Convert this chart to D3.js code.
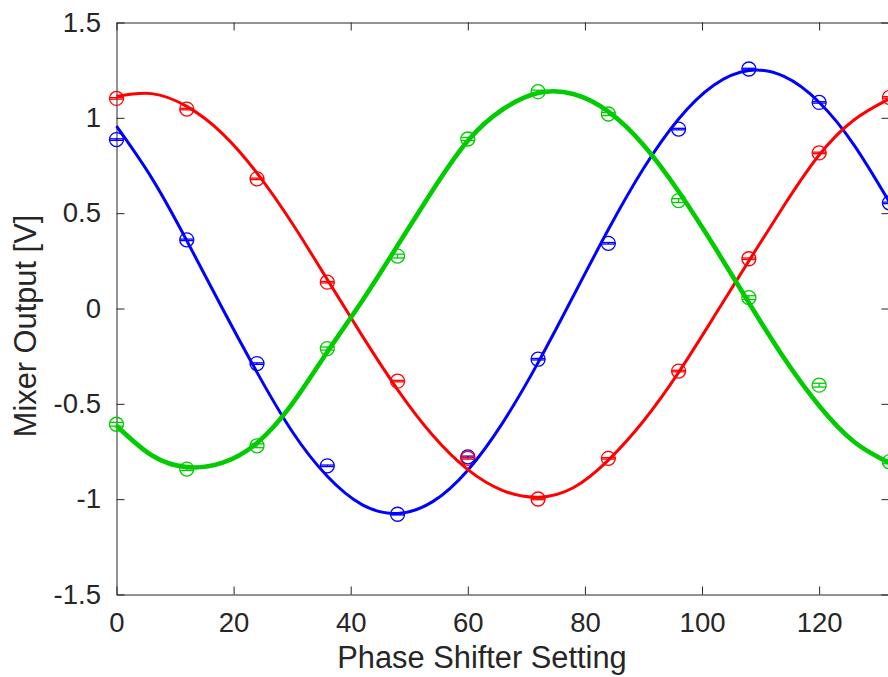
<!DOCTYPE html>
<html>
<head>
<meta charset="utf-8">
<script src="https://cdn.jsdelivr.net/npm/d3@7"></script>
<style>
  html, body { margin: 0; padding: 0; background: #ffffff; }
  svg { display: block; }
  text { font-family: "Liberation Sans", Arial, Helvetica, sans-serif; fill: #262626; }
</style>
</head>
<body>
<svg id="chart" width="888" height="677"></svg>
<script>
// Phase shifter settings at which the mixer output was measured
const settings = [0, 12, 24, 36, 48, 60, 72, 84, 96, 108, 120, 132];

// Measured mixer outputs [V]
const redMeasured   = [1.102, 1.046, 0.680, 0.138, -0.381, -0.786, -0.999, -0.786, -0.328, 0.261, 0.816, 1.107];
const blueMeasured  = [0.886, 0.360, -0.289, -0.825, -1.079, -0.778, -0.266, 0.342, 0.941, 1.256, 1.081, 0.554];
const greenMeasured = [-0.607, -0.842, -0.720, -0.210, 0.275, 0.889, 1.137, 1.020, 0.566, 0.057, -0.402, -0.804];

// Measurement uncertainties [V]
const redError   = [0.004, 0.004, 0.004, 0.004, 0.004, 0.004, 0.004, 0.004, 0.004, 0.004, 0.004, 0.004];
const blueError  = [0.004, 0.004, 0.004, 0.004, 0.004, 0.004, 0.004, 0.004, 0.004, 0.004, 0.004, 0.004];
const greenError = [0.010, 0.008, 0.010, 0.008, 0.010, 0.008, 0.008, 0.008, 0.010, 0.010, 0.010, 0.010];

// Sinusoidal fit curves, sampled along the phase shifter axis
const fitSettings = [0, 6, 12, 18, 24, 30, 36, 42, 48, 54, 60, 66, 72, 78, 84, 90, 96, 102, 108, 114, 120, 126, 132];
const redFit   = [1.112, 1.127, 1.060, 0.920, 0.710, 0.447, 0.152, -0.145, -0.425, -0.665, -0.845, -0.955, -0.990, -0.940, -0.795, -0.590, -0.335, -0.045, 0.250, 0.540, 0.805, 0.990, 1.100];
const blueFit  = [0.956, 0.685, 0.356, 0.005, -0.335, -0.645, -0.880, -1.030, -1.075, -1.013, -0.848, -0.597, -0.284, 0.064, 0.414, 0.734, 0.994, 1.171, 1.248, 1.217, 1.082, 0.856, 0.558];
const greenFit = [-0.615, -0.770, -0.832, -0.810, -0.705, -0.500, -0.228, 0.042, 0.330, 0.620, 0.880, 1.045, 1.130, 1.125, 1.033, 0.858, 0.614, 0.330, 0.030, -0.260, -0.510, -0.700, -0.810];

// Axis ticks
const xTicks = [0, 20, 40, 60, 80, 100, 120];
const xTickLabels = ["0", "20", "40", "60", "80", "100", "120"];
const yTicks = [-1.5, -1, -0.5, 0, 0.5, 1, 1.5];
const yTickLabels = ["-1.5", "-1", "-0.5", "0", "0.5", "1", "1.5"];

const svg = d3.select("#chart");
const plotLeft = 116.5, plotRight = 889.4, plotTop = 22.5, plotBottom = 594.5;
const axisColor = "#262626";
const tickFont = 27.5, labelFont = 30.8;

const x = d3.scaleLinear().domain([0, 132]).range([plotLeft, plotRight]);
const y = d3.scaleLinear().domain([-1.5, 1.5]).range([plotBottom, plotTop]);

// Axes box with inward ticks
function styleAxis(g) {
  g.select(".domain").attr("stroke", axisColor).attr("stroke-width", 1);
  g.selectAll(".tick line").attr("stroke", axisColor).attr("stroke-width", 1);
  g.selectAll(".tick text").attr("fill", axisColor)
    .style("font-size", tickFont + "px")
    .style("font-family", '"Liberation Sans", Arial, Helvetica, sans-serif');
}

svg.append("g").attr("transform", `translate(0,${plotBottom})`)
  .call(d3.axisBottom(x).tickValues(xTicks).tickFormat((d, i) => xTickLabels[i])
    .tickSizeInner(-8).tickSizeOuter(0).tickPadding(18))
  .call(styleAxis);

svg.append("g").attr("transform", `translate(0,${plotTop})`)
  .call(d3.axisTop(x).tickValues(xTicks).tickFormat("")
    .tickSizeInner(-8).tickSizeOuter(0))
  .call(styleAxis);

svg.append("g").attr("transform", `translate(${plotLeft},0)`)
  .call(d3.axisLeft(y).tickValues(yTicks).tickFormat((d, i) => yTickLabels[i])
    .tickSizeInner(-8).tickSizeOuter(0).tickPadding(15.5))
  .call(styleAxis);

svg.append("g").attr("transform", `translate(${plotRight},0)`)
  .call(d3.axisRight(y).tickValues(yTicks).tickFormat("")
    .tickSizeInner(-8).tickSizeOuter(0))
  .call(styleAxis);

// Axis titles
svg.append("text")
  .attr("x", 482).attr("y", 668)
  .attr("text-anchor", "middle")
  .style("font-size", labelFont + "px")
  .text("Phase Shifter Setting");

svg.append("text")
  .attr("transform", "translate(36,326) rotate(-90)")
  .attr("text-anchor", "middle")
  .style("font-size", labelFont + "px")
  .text("Mixer Output [V]");

const series = [
  { color: "#0000ff", measured: blueMeasured,  error: blueError,  fit: blueFit,  width: 3 },
  { color: "#ff0000", measured: redMeasured,   error: redError,   fit: redFit,   width: 3 },
  { color: "#00cc00", measured: greenMeasured, error: greenError, fit: greenFit, width: 4.6 }
];

const plot = svg.append("g");
const capHalf = 7;

// Measured points with error bars
series.forEach(s => {
  const g = plot.append("g").attr("stroke", s.color).attr("fill", "none").attr("stroke-width", 1.3);
  settings.forEach((sx, i) => {
    const cx = x(sx), v = s.measured[i], e = s.error[i];
    g.append("line").attr("x1", cx).attr("x2", cx).attr("y1", y(v - e)).attr("y2", y(v + e));
    g.append("line").attr("x1", cx - capHalf).attr("x2", cx + capHalf).attr("y1", y(v - e)).attr("y2", y(v - e));
    g.append("line").attr("x1", cx - capHalf).attr("x2", cx + capHalf).attr("y1", y(v + e)).attr("y2", y(v + e));
    g.append("circle").attr("cx", cx).attr("cy", y(v)).attr("r", 7);
  });
});

// Fitted curves
const line = d3.line()
  .x((d, i) => x(fitSettings[i]))
  .y(d => y(d))
  .curve(d3.curveNatural);

series.forEach(s => {
  plot.append("path")
    .datum(s.fit)
    .attr("d", line)
    .attr("fill", "none")
    .attr("stroke", s.color)
    .attr("stroke-width", s.width)
    .attr("stroke-linejoin", "round");
});
</script>
</body>
</html>
